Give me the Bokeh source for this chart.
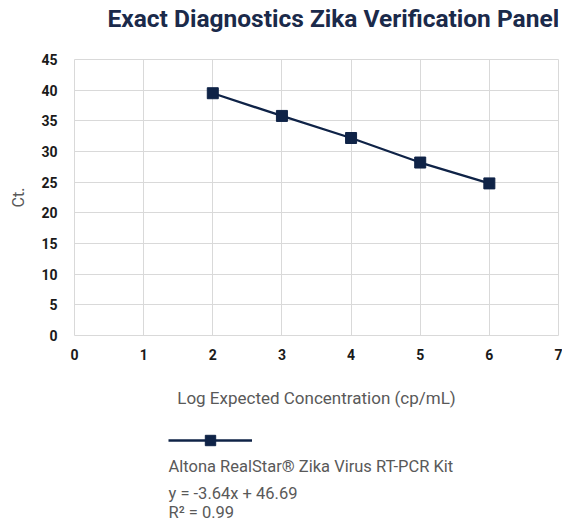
from bokeh.plotting import figure
from bokeh.layouts import column
from bokeh.models import Legend, LegendItem, FixedTicker, Range1d, Label
from bokeh.embed import file_html
from bokeh.resources import INLINE

# ---- data ----
log_conc = [2, 3, 4, 5, 6]
ct_values = [39.5, 35.8, 32.2, 28.2, 24.8]
x_ticks = [0, 1, 2, 3, 4, 5, 6, 7]
y_ticks = [0, 5, 10, 15, 20, 25, 30, 35, 40, 45]
title_text = "Exact Diagnostics Zika Verification Panel"
x_label = "Log Expected Concentration (cp/mL)"
y_label = "Ct."
series_name = "Altona RealStar® Zika Virus RT-PCR Kit"
equation = "y = -3.64x + 46.69"
r_squared = "R² = 0.99"

NAVY = "#0f2347"
TITLE_C = "#1b2a4a"
GREY = "#595959"
GRID = "#d9d9d9"
FONT = "Roboto"
W = 562
ML, MR = 74, 4


def blank(height):
    f = figure(width=W, height=height, output_backend="svg", toolbar_location=None,
               x_range=Range1d(0, 7), y_range=Range1d(0, 45),
               min_border_left=ML, min_border_right=MR, min_border_top=0, min_border_bottom=0)
    f.axis.visible = False
    f.grid.visible = False
    f.outline_line_color = None
    f.background_fill_color = "white"
    f.border_fill_color = "white"
    return f


# ---- title strip ----
p0 = blank(50)
p0.add_layout(Label(x=33, y=32, x_units="screen", y_units="screen", text=title_text,
                    text_font=FONT, text_font_style="bold", text_font_size="24.5px",
                    text_color=TITLE_C, text_align="left", text_baseline="alphabetic"))

# ---- main chart ----
p = figure(width=W, height=360, output_backend="svg", toolbar_location=None,
           x_range=Range1d(0, 7), y_range=Range1d(0, 45),
           min_border_left=ML, min_border_right=MR, min_border_top=9, min_border_bottom=75)
p.outline_line_color = GRID
p.background_fill_color = "white"
p.border_fill_color = "white"

for ax in (p.xaxis, p.yaxis):
    ax.axis_line_color = None
    ax.major_tick_line_color = None
    ax.minor_tick_line_color = None
    ax.major_label_text_font = FONT
    ax.major_label_text_font_style = "bold"
    ax.major_label_text_font_size = "14px"
    ax.major_label_text_color = "#1a1a1a"
    ax.axis_label_text_font = FONT
    ax.axis_label_text_font_style = "normal"
    ax.axis_label_text_color = GREY

p.xaxis.ticker = FixedTicker(ticks=x_ticks)
p.yaxis.ticker = FixedTicker(ticks=y_ticks)
p.xaxis.major_label_standoff = 7
p.yaxis.major_label_standoff = 11
p.xaxis.axis_label = x_label
p.xaxis.axis_label_text_font_size = "17px"
p.xaxis.axis_label_standoff = 25
p.yaxis.axis_label = y_label
p.yaxis.axis_label_text_font_size = "16px"
p.yaxis.axis_label_standoff = 10

p.xgrid.ticker = FixedTicker(ticks=x_ticks)
p.ygrid.ticker = FixedTicker(ticks=y_ticks)
p.xgrid.grid_line_color = GRID
p.ygrid.grid_line_color = GRID

p.line(log_conc, ct_values, line_color=NAVY, line_width=2.3)
p.scatter(log_conc, ct_values, marker="square", size=11, fill_color=NAVY, line_color=NAVY)

# ---- legend / equation area ----
p2 = blank(112)
ln2 = p2.line(log_conc, ct_values, line_color=NAVY, line_width=2.3, visible=False)
mk2 = p2.scatter(log_conc, ct_values, marker="square", size=11, fill_color=NAVY,
                 line_color=NAVY, visible=False)

legend = Legend(items=[LegendItem(label=" ", renderers=[ln2, mk2])],
                location=(94, 69), glyph_width=84, glyph_height=26,
                label_text_font_size="6px", label_standoff=0, label_width=0, label_height=26,
                padding=0, margin=0, spacing=0, border_line_alpha=0, background_fill_alpha=0,
                inactive_fill_alpha=0)
p2.add_layout(legend, "center")

for txt, yy in [(series_name, 56), (equation, 29), (r_squared, 10)]:
    p2.add_layout(Label(x=94, y=yy, x_units="screen", y_units="screen", text=txt,
                        text_font=FONT, text_font_size="16.5px", text_color=GREY,
                        text_align="left", text_baseline="middle"))

layout = column(p0, p, p2, spacing=0)
open("out.html", "w").write(file_html(layout, INLINE))
